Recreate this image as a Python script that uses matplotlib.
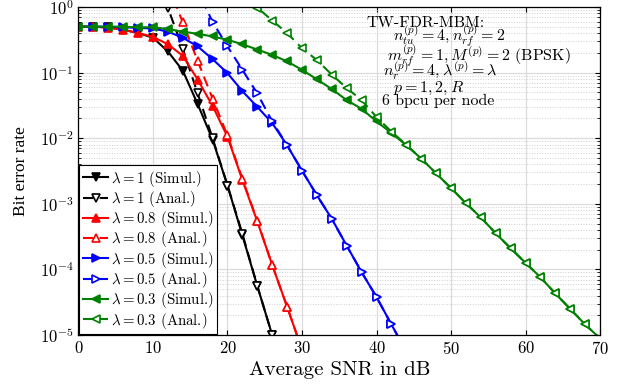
import numpy as np
import matplotlib
matplotlib.use("Agg")
import matplotlib.pyplot as plt

plt.rcParams["font.family"] = "serif"
plt.rcParams["font.serif"] = ["cmr10", "DejaVu Serif"]
plt.rcParams["mathtext.fontset"] = "cm"
plt.rcParams["axes.formatter.use_mathtext"] = True
plt.rcParams["axes.unicode_minus"] = False

# SNR grids (dB)
snr_l1_sim = np.arange(0, 27, 2)
snr_l1_ana = np.arange(10, 27, 2)
snr_l08_sim = np.arange(0, 31, 2)
snr_l08_ana = np.arange(12, 31, 2)
snr_l05_sim = np.arange(0, 45, 2)
snr_l05_ana = np.arange(16, 45, 2)
snr_l03_sim = np.arange(0, 71, 2)
snr_l03_ana = np.arange(22, 71, 2)

# bit error rate
ber_l1_sim = [0.50, 0.50, 0.49, 0.45, 0.40, 0.34, 0.21, 0.107, 0.033, 9.5e-3,
              1.9e-3, 3.3e-4, 5.6e-5, 1.0e-5]
ber_l1_ana = [3.0, 0.97, 0.23, 0.048, 0.010, 1.9e-3, 3.5e-4, 5.6e-5, 1.0e-5]

ber_l08_sim = [0.50, 0.50, 0.48, 0.45, 0.40, 0.35, 0.27, 0.18, 0.078, 0.031,
               0.0105, 2.3e-3, 5.4e-4, 1.17e-4, 2.7e-5, 6.0e-6]
ber_l08_ana = [2.2, 0.58, 0.15, 0.040, 0.011, 2.4e-3, 5.5e-4, 1.17e-4, 2.7e-5, 6.0e-6]

ber_l05_sim = [0.50, 0.50, 0.50, 0.49, 0.48, 0.47, 0.42, 0.34, 0.25, 0.16,
               0.098, 0.052, 0.030, 0.017, 7.8e-3, 3.2e-3, 1.35e-3, 5.9e-4,
               2.3e-4, 9.1e-5, 3.8e-5, 1.45e-5, 5.6e-6]
ber_l05_ana = [1.8, 0.59, 0.25, 0.11, 0.048, 0.018, 7.8e-3, 3.2e-3, 1.35e-3,
               5.9e-4, 2.3e-4, 9.1e-5, 3.8e-5, 1.45e-5, 5.6e-6]

ber_l03_sim = [0.50, 0.50, 0.50, 0.50, 0.49, 0.49, 0.46, 0.42, 0.39, 0.355,
               0.316, 0.27, 0.224, 0.186, 0.148, 0.11, 0.079, 0.056, 0.038,
               0.028, 0.018, 0.012, 7.8e-3, 4.9e-3, 2.9e-3, 1.74e-3, 1.02e-3,
               6.2e-4, 3.55e-4, 2.1e-4, 1.26e-4, 7.6e-5, 4.3e-5, 2.5e-5,
               1.45e-5, 8.9e-6]
ber_l03_ana = [1.7, 0.98, 0.62, 0.40, 0.235, 0.155, 0.093, 0.058, 0.038, 0.021,
               0.0126, 7.9e-3, 4.9e-3, 2.9e-3, 1.74e-3, 1.02e-3, 6.2e-4,
               3.55e-4, 2.1e-4, 1.26e-4, 7.6e-5, 4.3e-5, 2.5e-5, 1.45e-5, 8.9e-6]

curves = [
    (snr_l1_sim, ber_l1_sim, "k", "v", "-", True, r"$\lambda=1$ (Simul.)"),
    (snr_l1_ana, ber_l1_ana, "k", "v", "--", False, r"$\lambda=1$ (Anal.)"),
    (snr_l08_sim, ber_l08_sim, "r", "^", "-", True, r"$\lambda=0.8$ (Simul.)"),
    (snr_l08_ana, ber_l08_ana, "r", "^", "--", False, r"$\lambda=0.8$ (Anal.)"),
    (snr_l05_sim, ber_l05_sim, "b", ">", "-", True, r"$\lambda=0.5$ (Simul.)"),
    (snr_l05_ana, ber_l05_ana, "b", ">", "--", False, r"$\lambda=0.5$ (Anal.)"),
    (snr_l03_sim, ber_l03_sim, "g", "<", "-", True, r"$\lambda=0.3$ (Simul.)"),
    (snr_l03_ana, ber_l03_ana, "g", "<", "--", False, r"$\lambda=0.3$ (Anal.)"),
]

fig = plt.figure(figsize=(6.21, 3.86), dpi=100)
ax = fig.add_axes([0.1264, 0.132, 0.8398, 0.850])

for x, y, c, m, ls, filled, lab in curves:
    ax.semilogy(x, y, color=c, marker=m, linestyle=ls, linewidth=1.5,
                markersize=6, markerfacecolor=c if filled else "white",
                markeredgecolor=c, markeredgewidth=1.2, label=lab,
                dashes=(5, 3) if ls == "--" else (None, None))

ax.set_xlim(0, 70)
ax.set_ylim(1e-5, 1)
ax.set_xticks(np.arange(0, 71, 10))
ax.grid(True, which="major", color="#dcdcdc", linewidth=0.9)
ax.grid(True, which="minor", color="#cfcfcf", linestyle=":", linewidth=0.7)
ax.tick_params(which="both", direction="in", top=True, right=True, labelsize=12)
ax.set_xlabel("Average SNR in dB", fontsize=15)
ax.set_ylabel("Bit error rate", fontsize=12.5, family="Liberation Serif")
ax.xaxis.set_label_coords(0.5, -0.079)
ax.yaxis.set_label_coords(-0.094, 0.5)
for s in ax.spines.values():
    s.set_linewidth(0.9)

leg = ax.legend(loc="lower left", fontsize=10.7, handlelength=1.7,
                handletextpad=0.2, labelspacing=0.02, borderaxespad=0.05,
                borderpad=0.25, fancybox=False, framealpha=1, edgecolor="k")
leg.get_frame().set_linewidth(0.8)

notes = [
    (0.553, 0.939, "TW-FDR-MBM:"),
    (0.603, 0.896, r"$n_{tu}^{(p)}=4, n_{rf}^{(p)}=2$"),
    (0.592, 0.835, r"$m_{rf}^{(p)}=1, M^{(p)}=2$ (BPSK)"),
    (0.584, 0.790, r"$n_{r}^{(p)}=4, \lambda^{(p)}=\lambda$"),
    (0.603, 0.741, r"$p=1,2,R$"),
    (0.582, 0.701, "6 bpcu per node"),
]
for tx, ty, s in notes:
    ax.text(tx, ty, s, transform=ax.transAxes, fontsize=11.5, va="baseline",
            ha="left")

fig.savefig("out.png", dpi=100)
